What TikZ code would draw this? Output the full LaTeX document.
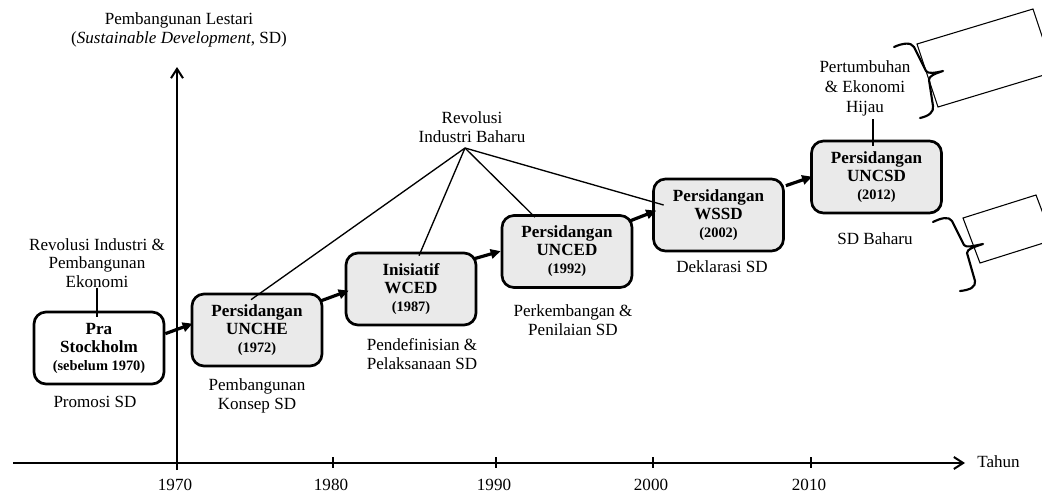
\documentclass[tikz,border=0pt]{standalone}
\usepackage{fontspec}
\setmainfont{Liberation Serif}
\usetikzlibrary{arrows.meta,calc}
\begin{document}
\begin{tikzpicture}[x=0.75pt,y=-0.75pt,
  lbl/.style={font=\fontsize{12.8}{14}\selectfont, align=center, inner sep=0pt},
  evbox/.style={draw, line width=2pt, rounded corners=9pt, minimum width=97.5pt,
    minimum height=54pt, inner sep=0pt, align=center,
    font=\fontsize{12.8}{13.5}\selectfont\bfseries},
  grey/.style={fill=boxgrey},
  axis/.style={line width=1.5pt, -{Straight Barb[length=7pt,width=9pt,line width=1.5pt]}},
  tick/.style={line width=1.5pt},
  flow/.style={line width=2.4pt, -{Triangle[length=7.5pt,width=7pt]}},
  link/.style={line width=1pt},
  bracepath/.style={line width=1.6pt, line join=round, line cap=round},
  sidebox/.style={line width=0.8pt}]
\definecolor{boxgrey}{RGB}{234,234,234}
\useasboundingbox (0,0) rectangle (1042,493);

% axes
\coordinate (xs) at (13,463);
\coordinate (xe) at (965,463);
\coordinate (ys) at (177,470);
\coordinate (ye) at (177,67);
\draw[axis] (xs) -- (xe);
\draw[axis] (ys) -- (ye);
\node[lbl, anchor=west] (tahun) at (977,462) {Tahun};
\node[lbl] (ylab) at (179,30) {Pembangunan Lestari\\(\textit{Sustainable Development}, SD)};

% ticks
\foreach \x/\yr in {177/1970, 333/1980, 496/1990, 653/2000, 811/2010}{
  \draw[tick] (\x,457) -- (\x,468);
  \node[lbl] (t\yr) at (\x-2,484.5) {\yr};
}

% boxes
\node[evbox] (b1) at (99,348) {Pra\\Stockholm\\{\fontsize{10.8}{13.5}\selectfont(sebelum 1970)}};
\node[evbox, grey] (b2) at (257,330) {Persidangan\\UNCHE\\{\fontsize{10.8}{13.5}\selectfont(1972)}};
\node[evbox, grey] (b3) at (411,289) {Inisiatif\\WCED\\{\fontsize{10.8}{13.5}\selectfont(1987)}};
\node[evbox, grey] (b4) at (567,251.5) {Persidangan\\UNCED\\{\fontsize{10.8}{13.5}\selectfont(1992)}};
\node[evbox, grey] (b5) at (718.5,215) {Persidangan\\WSSD\\{\fontsize{10.8}{13.5}\selectfont(2002)}};
\node[evbox, grey] (b6) at (876.5,177) {Persidangan\\UNCSD\\{\fontsize{10.8}{13.5}\selectfont(2012)}};

% flow arrows
\draw[flow] ($(b1.north east)+(0,23)$) -- ($(b2.north west)+(2,31)$);
\draw[flow] ($(b2.north east)+(-2,8)$) -- ($(b3.north west)+(4,39)$);
\draw[flow] ($(b3.north east)+(-3,7)$) -- ($(b4.north west)+(0,37)$);
\draw[flow] ($(b4.north east)+(-4,7)$) -- ($(b5.north west)+(4,33)$);
\draw[flow] ($(b5.north east)+(1,8)$) -- ($(b6.north west)+(2,37)$);

% labels under boxes
\node[lbl] (l1) at (95,402) {Promosi SD};
\node[lbl] (l2) at (257,396) {Pembangunan\\Konsep SD};
\node[lbl] (l3) at (422,354) {Pendefinisian \&\\Pelaksanaan SD};
\node[lbl] (l4) at (573,320) {Perkembangan \&\\Penilaian SD};
\node[lbl] (l5) at (722,267) {Deklarasi SD};
\node[lbl] (l6) at (875,239) {SD Baharu};

% labels above
\node[lbl] (ripe) at (97,263) {Revolusi Industri \&\\Pembangunan\\Ekonomi};
\coordinate (b1in) at ($(b1.north)+(-2,6)$);
\draw[link] (b1in |- ripe.south) -- (b1in);

\node[lbl] (rib) at (472,127) {Revolusi\\Industri Baharu};
\coordinate (apex) at (465,148);
\draw[link] (apex) -- ($(b2.north)+(-6,7)$);
\draw[link] (apex) -- ($(b3.north)+(8,4)$);
\draw[link] (apex) -- ($(b4.north)+(-32,3)$);
\draw[link] (apex) -- ($(b5.west)+(11.5,-10)$);

\node[lbl, font=\fontsize{12.8}{15}\selectfont] (peh) at (865,88) {Pertumbuhan\\\& Ekonomi\\Hijau};
\coordinate (b6in) at ($(b6.north)+(-3.5,6)$);
\draw[link] (b6in) -- ($(b6in |- peh.south)+(0,3)$);

% side braces and tilted boxes
\begin{scope}
\clip (0,0) rectangle (1042,493);
\draw[sidebox] (917,44) -- (1033,9) -- (1054,72) -- (938,107) -- cycle;
\draw[sidebox] (963,218) -- (1036,195) -- (1053,240) -- (980,263) -- cycle;
\end{scope}
\draw[bracepath] (894,47) .. controls (903,43) and (911,42) .. (914,47)
  -- (926,71) .. controls (928,74) and (935,73) .. (943,71)
  .. controls (934,74) and (929,76) .. (929,80)
  -- (933,106) .. controls (934,112) and (929,116) .. (920,118);
\draw[bracepath] (933,222) .. controls (941,218) and (949,216) .. (952,221)
  -- (964,245) .. controls (966,248) and (973,246) .. (983,244)
  .. controls (974,247) and (967,249) .. (967,253)
  -- (975,281) .. controls (976,287) and (970,290) .. (960,291);
\end{tikzpicture}
\end{document}
